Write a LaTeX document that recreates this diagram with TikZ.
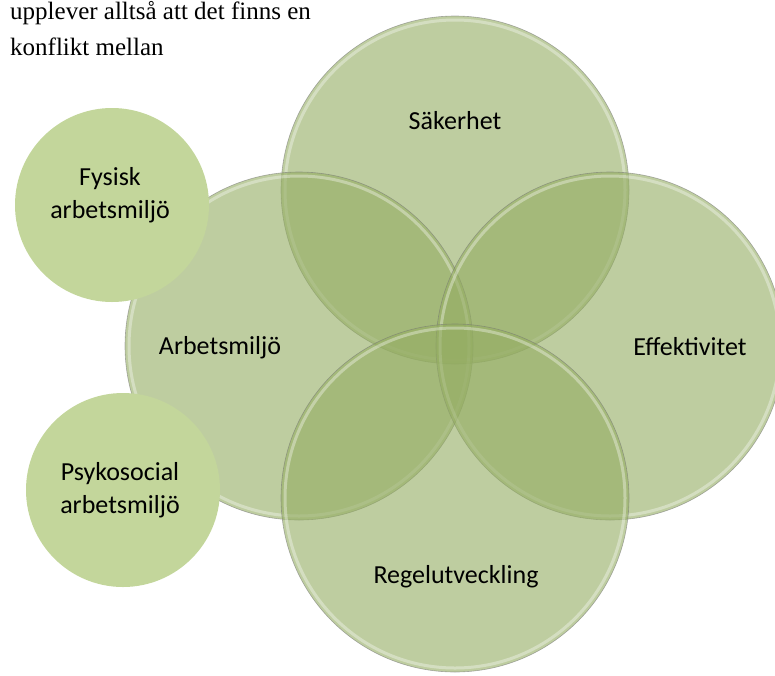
\documentclass[tikz,border=0pt]{standalone}
\usepackage{fontspec}
\setmainfont{Carlito}
\newfontfamily\serifface{Liberation Serif}
\definecolor{smallfill}{HTML}{C3D69B}
\definecolor{bigfill}{RGB}{147,172,97}
\begin{document}
\begin{tikzpicture}[x=1pt,y=-1pt,
  bigcirc/.style={circle, minimum size=348pt, inner sep=0pt, fill=bigfill, fill opacity=0.6, draw=black!55, draw opacity=0.55, line width=0.6pt},
  rimlight/.style={draw=white, draw opacity=0.35, line width=3pt},
  smallcirc/.style={circle, minimum size=194pt, inner sep=0pt, fill=smallfill},
  lbl/.style={font=\fontsize{26}{33}\selectfont, text=black, align=center, inner sep=0pt},
  toptext/.style={font=\serifface\fontsize{25}{36}\selectfont, text=black, anchor=base west, inner sep=0pt}
]
\useasboundingbox (0,0) rectangle (775,675);

% big translucent circles
\node[bigcirc] (sak) at (455,190) {};
\draw[rimlight] (sak.center) circle[radius=170];
\node[bigcirc] (arb) at (299,346) {};
\draw[rimlight] (arb.center) circle[radius=170];
\node[bigcirc] (eff) at (610,346) {};
\draw[rimlight] (eff.center) circle[radius=170];
\node[bigcirc] (reg) at (455,498) {};
\draw[rimlight] (reg.center) circle[radius=170];

% small opaque circles
\node[smallcirc] (fys) at (112,205) {};
\node[smallcirc] (psy) at (123,490) {};

% labels
\node[lbl, anchor=base] (lsak) at (455,129) {Säkerhet};
\node[lbl, anchor=base] (larb) at (220,354) {Arbetsmiljö};
\node[lbl, anchor=base] (leff) at (690,355) {Effektivitet};
\node[lbl, anchor=base] (lreg) at (456,583) {Regelutveckling};
\node[lbl, anchor=center] (lfys) at (110,195) {Fysisk\\arbetsmiljö};
\node[lbl, anchor=center] (lpsy) at (120,490) {Psykosocial\\arbetsmiljö};

% top text
\node[toptext] (t1) at (10,19) {upplever alltså att det finns en};
\node[toptext] (t2) at (10,55) {konflikt mellan};
\end{tikzpicture}
\end{document}
